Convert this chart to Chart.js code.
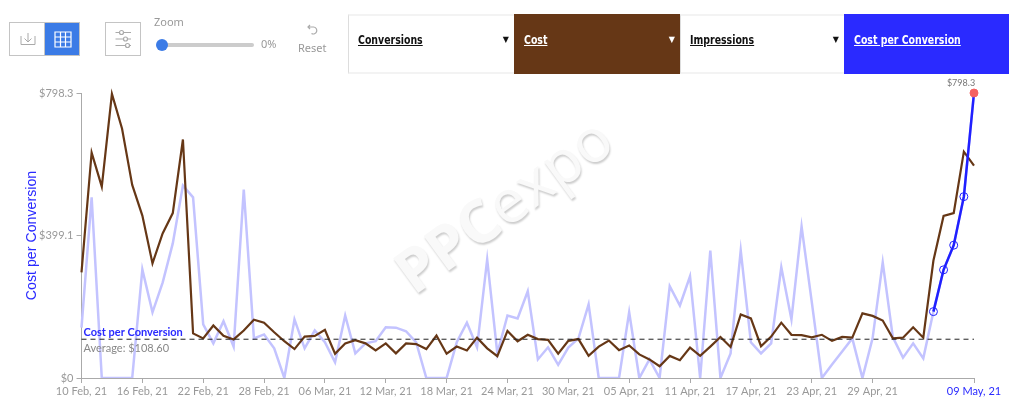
<!DOCTYPE html>
<html>
<head>
<meta charset="utf-8">
<script src="https://cdn.jsdelivr.net/npm/chart.js@4/dist/chart.umd.min.js"></script>
<style>
    html, body { margin: 0; padding: 0; background: #fff; overflow: hidden; }
    body { width: 1014px; height: 414px; position: relative; font-family: "Noto Sans", sans-serif; color: #999; }
    canvas { position: absolute; left: 0; top: 0; }
    .box { position: absolute; top: 22px; height: 32px; border: 1.5px solid #c4c4c4; box-sizing: content-box; }
    .box svg { position: absolute; left: 0; top: 0; }
    .txt { position: absolute; font-size: 11px; line-height: 14px; white-space: nowrap; }
    .tab { position: absolute; top: 14px; height: 60px; box-sizing: border-box; border: 2px solid #f3f3f3; border-left: 1px solid #ddd; border-right: 0;
           font: bold 12px "DejaVu Sans Condensed", "DejaVu Sans", sans-serif; color: #111; }
    .tab span { position: absolute; left: 9px; top: 17px; text-decoration: underline; transform: scaleX(0.87); transform-origin: left center; white-space: nowrap; }
    .tab i { position: absolute; right: 5px; top: 19px; font: normal 8px "DejaVu Sans", sans-serif; }
    .on { color: #fff; border-color: transparent; }
</style>
</head>
<body>
<canvas id="chart" width="1014" height="414"></canvas>

<div class="box" style="left:9px;width:34px">
    <svg width="34" height="32" fill="none" stroke="#aaa" stroke-width="1"><path d="M11 13v8.5h14V13M18 10v9M14.500 15.500l3.500 3.500 3.500-3.500"/></svg>
</div>
<div class="box" style="left:44px;width:34px;background:#3b7be6;border-color:#c4c4c4">
    <svg width="34" height="32" fill="none" stroke="#fff" stroke-width="1.2"><path d="M10 9h16v15H10zM10 14h16M10 19h16M15.500 9v15M20.500 9v15"/></svg>
</div>
<div class="box" style="left:105px;width:34px">
    <svg width="34" height="32" fill="none" stroke="#aaa" stroke-width="1.200"><path d="M9.500 9.500h4M18 9.500h7M9.500 16h8M22 16h3M9.500 22.500h10M24 22.500h1"/><circle cx="15.500" cy="9.500" r="2"/><circle cx="19.500" cy="16" r="2"/><circle cx="21.500" cy="22.500" r="2"/></svg>
</div>

<div class="txt" style="left:154px;top:15px">Zoom</div>
<div style="position:absolute;left:160px;top:43px;width:94px;height:4px;border-radius:2px;background:#ccc"></div>
<div style="position:absolute;left:156px;top:39px;width:12px;height:12px;border-radius:6px;background:#3b7be6"></div>
<div class="txt" style="left:261px;top:37px">0%</div>
<svg style="position:absolute;left:305px;top:23px" width="14" height="14" fill="none" stroke="#aaa" stroke-width="1.200"><path d="M3 4h5.500a3.500 3.500 0 1 1-2 6.500M5 2L3 4l2 2"/></svg>
<div class="txt" style="left:298px;top:41px">Reset</div>

<div class="tab" style="left:348px;width:166px"><span>Conversions</span><i>▼</i></div>
<div class="tab on" style="left:514px;width:166px;background:#663716"><span>Cost</span><i>▼</i></div>
<div class="tab" style="left:680px;width:164px"><span>Impressions</span><i>▼</i></div>
<div class="tab on" style="left:844px;width:165px;background:#2a2aff"><span>Cost per Conversion</span></div>

<script>
const costPerConversion = [
    141, 506, 0, 0, 0, 0, 304, 184, 267, 377, 539, 506, 150, 97, 159, 88, 528, 111, 122, 83,
    0, 164, 83, 133, 100, 44, 175, 69, 97, 103, 142, 141, 131, 100, 0, 0, 0, 100, 155, 86,
    332, 69, 175, 167, 243, 52, 86, 37, 85, 111, 206, 0, 0, 0, 184, 0, 52, 0, 257, 203,
    285, 0, 357, 0, 69, 357, 100, 69, 97, 310, 164, 424, 214, 0, 38, 74, 111, 0, 111, 324,
    114, 57, 97, 55, 186, 303, 372, 508, 798.3
];
const cost = [
    296, 631, 536, 796, 698, 541, 455, 321, 405, 462, 668, 125, 111, 147, 118, 108, 133, 163, 155, 128,
    103, 81, 116, 118, 135, 68, 97, 106, 97, 77, 97, 69, 97, 95, 81, 119, 68, 88, 77, 113,
    83, 61, 132, 103, 121, 109, 107, 68, 104, 109, 62, 88, 105, 78, 91, 66, 52, 33, 62, 50,
    85, 62, 88, 115, 87, 178, 167, 89, 116, 155, 121, 120, 114, 121, 104, 115, 113, 181, 174, 161,
    111, 113, 142, 113, 329, 454, 462, 634, 595
];
const tickDays = [0, 6, 12, 18, 24, 30, 36, 42, 48, 54, 60, 66, 72, 78, 88];
const tickLabels = ['10 Feb, 21', '16 Feb, 21', '22 Feb, 21', '28 Feb, 21', '06 Mar, 21', '12 Mar, 21', '18 Mar, 21',
    '24 Mar, 21', '30 Mar, 21', '05 Apr, 21', '11 Apr, 21', '17 Apr, 21', '23 Apr, 21', '29 Apr, 21', '09 May, 21'];
const yTicks = [0, 399.1, 798.3];
const averageValue = 108.6;
const highlightFrom = 84;

const days = costPerConversion.map((v, i) => i);
const lastDay = days.length - 1;
const recent = costPerConversion.map((v, i) => i >= highlightFrom ? v : null);

// watermark behind the lines, heavy PPC then thin expo
const watermark = {
    id: 'watermark',
    beforeDatasetsDraw(chart) {
        const ctx = chart.ctx;
        ctx.save();
        ctx.translate(506, 208);
        ctx.rotate(-36 * Math.PI / 180);
        ctx.textAlign = 'left';
        ctx.textBaseline = 'middle';
        ctx.shadowColor = 'rgba(0,0,0,0.2)';
        ctx.shadowBlur = 2;
        ctx.shadowOffsetX = 1;
        ctx.shadowOffsetY = 2;
        ctx.fillStyle = '#f9f9f9';
        ctx.font = 'bold 60px "Open Sans"';
        const w1 = ctx.measureText('PPC').width;
        ctx.fillText('PPC', -126, 0);
        ctx.font = '60px "Open Sans"';
        ctx.fillText('expo', -126 + w1, 0);
        ctx.restore();
    }
};

// average line, its captions and the max label
const annotations = {
    id: 'annotations',
    afterDatasetsDraw(chart) {
        const { ctx, scales } = chart;
        const y = scales.y.getPixelForValue(averageValue);
        ctx.save();
        ctx.strokeStyle = '#222';
        ctx.lineWidth = 1;
        ctx.setLineDash([5, 4]);
        ctx.beginPath();
        ctx.moveTo(scales.x.left, y);
        ctx.lineTo(scales.x.right, y);
        ctx.stroke();
        ctx.setLineDash([]);

        ctx.textBaseline = 'middle';
        ctx.textAlign = 'left';
        ctx.font = 'bold 11px Lato';
        ctx.fillStyle = '#2a2aff';
        ctx.fillText('Cost per Conversion', scales.x.left + 2, y - 7);
        ctx.font = '11px Lato';
        ctx.fillStyle = '#888';
        ctx.fillText('Average: $' + averageValue.toFixed(2), scales.x.left + 2, y + 9);

        ctx.textAlign = 'center';
        ctx.font = '9px Lato';
        ctx.fillStyle = '#777';
        ctx.fillText('$' + costPerConversion[lastDay], scales.x.getPixelForValue(lastDay) - 13, scales.y.getPixelForValue(costPerConversion[lastDay]) - 10);
        ctx.restore();
    }
};

new Chart(document.getElementById('chart').getContext('2d'), {
    type: 'line',
    plugins: [watermark, annotations],
    data: {
        labels: days,
        datasets: [
            {
                label: 'Cost per Conversion (recent)',
                data: recent,
                borderColor: '#2020ff',
                borderWidth: 2.5,
                tension: 0,
                clip: false,
                pointRadius: 4,
                pointHoverRadius: 4,
                pointBorderWidth: 1,
                pointBackgroundColor: (c) => c.dataIndex === lastDay ? '#f46262' : 'rgba(0,0,0,0)',
                pointBorderColor: (c) => c.dataIndex === lastDay ? '#f46262' : '#2020ff'
            },
            {
                label: 'Cost',
                data: cost,
                borderColor: '#663716',
                borderWidth: 2.2,
                tension: 0,
                clip: false,
                pointRadius: 0
            },
            {
                label: 'Cost per Conversion',
                data: costPerConversion,
                borderColor: '#c3c3ff',
                borderWidth: 2.5,
                tension: 0,
                clip: { left: false, top: false, right: false, bottom: 0 },
                pointRadius: 0
            }
        ]
    },
    options: {
        responsive: false,
        animation: false,
        layout: { padding: { left: 24, top: 93, right: 40, bottom: 0 } },
        plugins: { legend: { display: false }, tooltip: { enabled: false } },
        scales: {
            x: {
                type: 'category',
                afterBuildTicks(scale) {
                    scale.ticks = scale.ticks.filter(t => tickDays.includes(t.value));
                },
                afterFit(scale) {
                    scale.height = 36;
                },
                grid: { drawOnChartArea: false, color: '#aaa', tickLength: 5 },
                border: { color: '#aaa' },
                ticks: {
                    autoSkip: false,
                    maxRotation: 0,
                    padding: 2,
                    font: { family: 'Lato', size: 11 },
                    color: (c) => c.tick && c.tick.value === lastDay ? '#2a2aff' : '#999',
                    callback: (value) => tickLabels[tickDays.indexOf(value)]
                }
            },
            y: {
                min: 0,
                max: 798.3,
                afterBuildTicks(scale) {
                    scale.ticks = yTicks.map(value => ({ value }));
                },
                afterFit(scale) {
                    scale.width = 57.5;
                },
                grid: { drawOnChartArea: false, color: '#aaa', tickLength: 5 },
                border: { color: '#aaa' },
                title: {
                    display: true,
                    text: 'Cost per Conversion',
                    color: '#2a2aff',
                    padding: 0,
                    font: { family: 'Liberation Sans', size: 14.2 }
                },
                ticks: {
                    padding: 3,
                    font: { family: 'Lato', size: 11 },
                    color: '#999',
                    callback: (value) => '$' + value
                }
            }
        }
    }
});
</script>
</body>
</html>
